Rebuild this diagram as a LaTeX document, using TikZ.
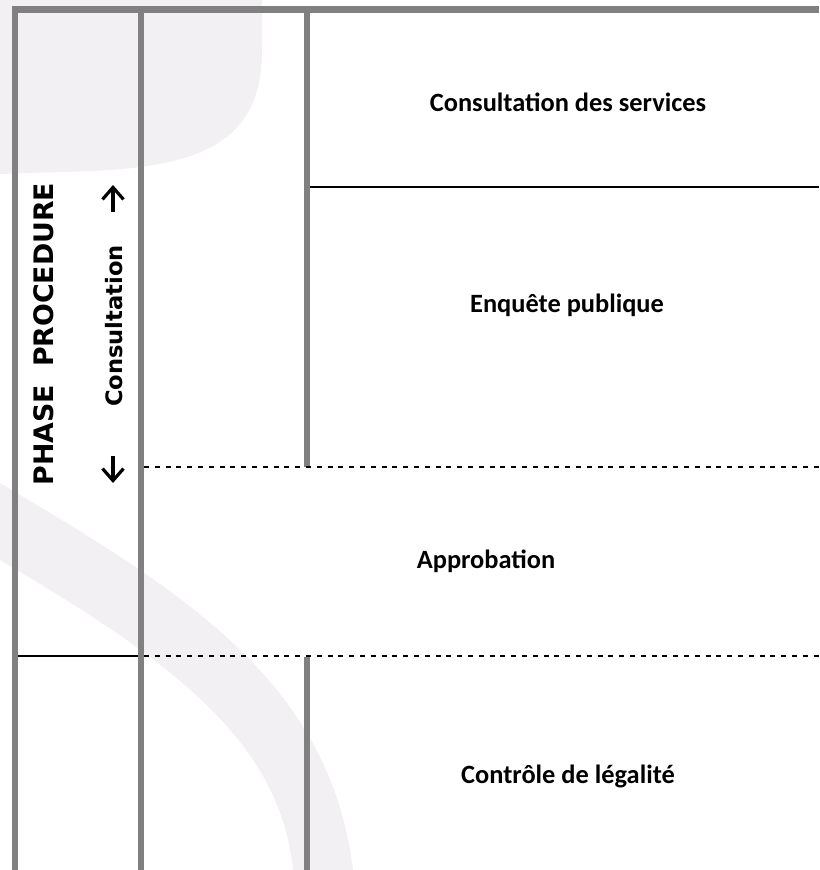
\documentclass[tikz,border=0pt]{standalone}
\usepackage{fontspec}
\setmainfont{Carlito}
\newfontfamily\sidefont{DejaVu Sans}
\usetikzlibrary{arrows.meta}
\definecolor{wmark}{RGB}{242,240,242}
\definecolor{rulegray}{RGB}{128,128,128}

\begin{document}
\begin{tikzpicture}[x=0.5pt,y=-0.5pt,
    grayrule/.style={color=rulegray, line width=3.2pt},
    blackrule/.style={color=black, line width=1.1pt},
    dotrule/.style={color=black, line width=1.2pt, dash pattern=on 2.5pt off 2.9pt},
    steplabel/.style={font=\bfseries\fontsize{13.2}{15}\selectfont},
    sidelabel/.style={font=\sidefont\bfseries\fontsize{13.4}{15}\selectfont, rotate=90},
    sidesmall/.style={font=\sidefont\bfseries\fontsize{11.3}{13}\selectfont, rotate=90},
    updown/.style={line width=1.6pt, -{Straight Barb[length=6pt,width=10.5pt]}}]
        \useasboundingbox (0,0) rectangle (819,870);
        % watermark in the background
        \fill[wmark] (0,0) -- (262,0) -- (262,50) .. controls (262,150) and (190,170) .. (60,172) -- (0,174) -- cycle;
        \fill[wmark] (0,483) .. controls (180,590) and (330,680) .. (353,870) -- (293,870) .. controls (280,740) and (170,660) .. (0,560) -- cycle;
        % frame and columns
        \draw[grayrule, line width=3.5pt] (12,9.6) -- (819,9.6);
        \draw[grayrule] (15,9.6) -- (15,870);
        \draw[grayrule] (141,9.6) -- (141,870);
        \draw[grayrule] (307,9.6) -- (307,467);
        \draw[grayrule] (307,657) -- (307,870);
        % separations between the steps
        \draw[blackrule] (310,187) -- (819,187);
        \draw[dotrule] (144,467) -- (819,467);
        \draw[blackrule] (18,656) -- (138,656);
        \draw[dotrule] (144,656) -- (819,656);
        % steps
        \node[steplabel] (services) at (568,102) {Consultation des services};
        \node[steplabel] (enquete) at (567,305) {Enquête publique};
        \node[steplabel] (approbation) at (486,561) {Approbation};
        \node[steplabel] (controle) at (568,776) {Contrôle de légalité};
        % side labels
        \node[sidelabel] (phase) at (44,334) {PHASE\hspace{9pt}PROCEDURE};
        \node[sidesmall] (consultation) at (114,326) {Consultation};
        \coordinate (uptail) at (113,212);
        \coordinate (uphead) at (113,185);
        \coordinate (downtail) at (113,456);
        \coordinate (downhead) at (113,483);
        \draw[updown] (uptail) -- (uphead);
        \draw[updown] (downtail) -- (downhead);
    \end{tikzpicture}
\end{document}
